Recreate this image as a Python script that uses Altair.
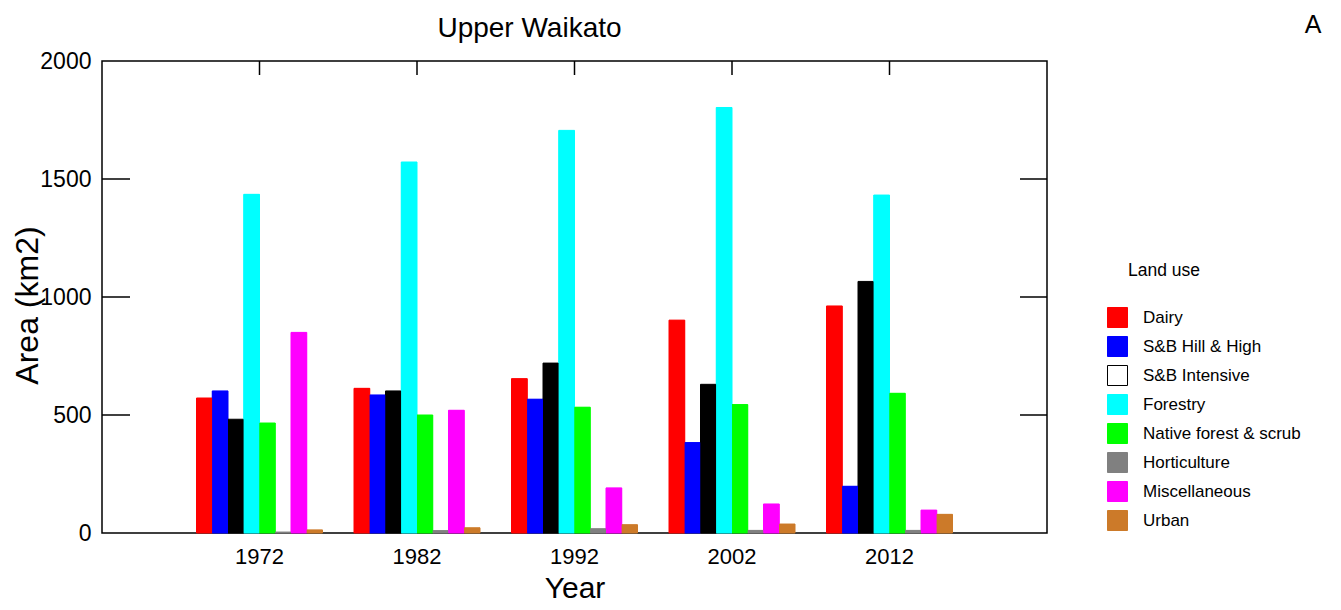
import altair as alt
import pandas as pd

years = ["1972", "1982", "1992", "2002", "2012"]
land_uses = ["Dairy", "S&B Hill & High", "S&B Intensive", "Forestry",
             "Native forest & scrub", "Horticulture", "Miscellaneous", "Urban"]

dairy = [572, 613, 654, 902, 962]
hill_high = [602, 585, 567, 383, 198]
intensive = [482, 602, 720, 630, 1066]
forestry = [1435, 1572, 1706, 1803, 1432]
native = [466, 500, 533, 544, 592]
horticulture = [4, 10, 18, 11, 11]
miscellaneous = [850, 520, 191, 123, 97]
urban = [13, 22, 35, 38, 79]

bar_colors = ["#FF0000", "#0000FF", "#000000", "#00FFFF",
              "#00FF00", "#808080", "#FF00FF", "#CC7A29"]
legend_fill = ["#FF0000", "#0000FF", "#FFFFFF", "#00FFFF",
               "#00FF00", "#808080", "#FF00FF", "#CC7A29"]
legend_stroke = ["#FF0000", "#0000FF", "#000000", "#00FFFF",
                 "#00FF00", "#808080", "#FF00FF", "#CC7A29"]

y_ticks = [0, 500, 1000, 1500, 2000]
inner_ticks = [500, 1000, 1500]

series = [dairy, hill_high, intensive, forestry, native, horticulture, miscellaneous, urban]
rows = []
for lu, vals in zip(land_uses, series):
    for yr, v in zip(years, vals):
        rows.append({"Year": yr, "Land use": lu, "Area": v})
df = pd.DataFrame(rows)

FONT = "Liberation Sans"
W, H = 945, 472

x_axis = alt.Axis(title="Year", labelAngle=0, labelFontSize=22, labelPadding=13,
                  ticks=False, domain=False, titleFontSize=30,
                  titleFontWeight="normal", titleX=W / 2, titleY=64,
                  titleBaseline="alphabetic", labelColor="black", titleColor="black")
y_axis = alt.Axis(title="Area (km2)", values=y_ticks, format="d", labelFontSize=23,
                  labelPadding=11, ticks=False, domain=False, grid=False,
                  titleFontSize=32, titleFontWeight="normal", titleX=-65,
                  titleY=244, titleBaseline="alphabetic", titleAlign="center",
                  labelColor="black", titleColor="black")
x_scale = alt.Scale(paddingInner=0.2, paddingOuter=0.6)
y_scale = alt.Scale(domain=[0, 2000], nice=False)

x_enc = alt.X("Year:N", sort=years, scale=x_scale, axis=x_axis)
y_enc = alt.Y("Area:Q", scale=y_scale, axis=y_axis)
xoff_enc = alt.XOffset("Land use:N", sort=land_uses,
                       scale=alt.Scale(domain=land_uses, paddingInner=0, paddingOuter=0))

leg = alt.Legend(title=None, orient="none", legendX=1005, legendY=246,
                 symbolType="square", symbolSize=400, symbolStrokeWidth=1,
                 labelFontSize=17, labelColor="black", labelOffset=15,
                 rowPadding=4, padding=0, symbolOpacity=1)

bars_legend = alt.Chart(df).mark_bar(strokeWidth=1).encode(
    x=x_enc, xOffset=xoff_enc, y=y_enc,
    fill=alt.Fill("Land use:N", sort=land_uses,
                  scale=alt.Scale(domain=land_uses, range=legend_fill), legend=leg),
    stroke=alt.Stroke("Land use:N", sort=land_uses,
                      scale=alt.Scale(domain=land_uses, range=legend_stroke), legend=leg),
)

bars = alt.Chart(df).mark_bar(strokeWidth=0).encode(
    x=x_enc, xOffset=xoff_enc, y=y_enc,
    color=alt.Color("Land use:N", sort=land_uses,
                    scale=alt.Scale(domain=land_uses, range=bar_colors), legend=None),
)

df_t = pd.DataFrame({"Area": inner_ticks})
left_ticks = alt.Chart(df_t).mark_rule(color="black", strokeWidth=1.5).encode(
    y=y_enc, x=alt.value(0), x2=alt.value(28))
right_ticks = alt.Chart(df_t).mark_rule(color="black", strokeWidth=1.5).encode(
    y=y_enc, x=alt.value(W - 27), x2=alt.value(W))
df_y = pd.DataFrame({"Year": years})
top_ticks = alt.Chart(df_y).mark_rule(color="black", strokeWidth=1.5).encode(
    x=x_enc, y=alt.value(0), y2=alt.value(14))

df_txt = pd.DataFrame({"t": ["A", "Land use", "Upper Waikato"],
                       "kind": ["panel", "legend", "title"]})
panel_label = alt.Chart(df_txt).transform_filter("datum.kind == 'panel'").mark_text(
    fontSize=25, align="center", baseline="alphabetic", color="black").encode(
    text="t:N", x=alt.value(1211), y=alt.value(-28))
legend_title = alt.Chart(df_txt).transform_filter("datum.kind == 'legend'").mark_text(
    fontSize=17.5, align="left", baseline="alphabetic", color="black").encode(
    text="t:N", x=alt.value(1026), y=alt.value(215))
main_title = alt.Chart(df_txt).transform_filter("datum.kind == 'title'").mark_text(
    fontSize=28, align="center", baseline="alphabetic", color="black").encode(
    text="t:N", x=alt.value(427.5), y=alt.value(-24))

chart = alt.layer(bars_legend, bars, left_ticks, right_ticks, top_ticks,
                  panel_label, legend_title, main_title).properties(
    width=W, height=H,
    autosize=alt.AutoSizeParams(type="none"),
    padding={"left": 94, "top": 53, "right": 280, "bottom": 69},
).configure(font=FONT).configure_view(stroke="black", strokeWidth=1.5)

chart.save("out.html", embed_options={"renderer": "svg", "actions": False})
